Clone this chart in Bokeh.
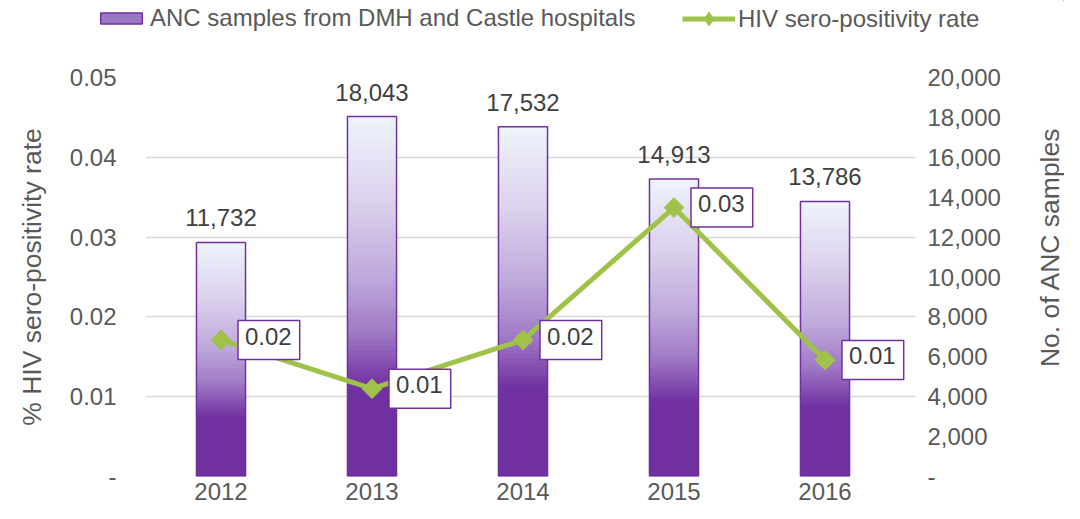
import numpy as np
from bokeh.plotting import figure
from bokeh.layouts import column, row
from bokeh.models import (Range1d, LinearAxis, FixedTicker, CustomJSTickFormatter,
                          ColumnDataSource, LabelSet, Label, Legend, LegendItem)
from bokeh.core.properties import value
from bokeh.embed import file_html
from bokeh.resources import INLINE

# ---- data ----
years = ["2012", "2013", "2014", "2015", "2016"]
samples = [11732, 18043, 17532, 14913, 13786]
rates = [0.0171, 0.0110, 0.0171, 0.0337, 0.0146]
left_ticks = [0, 0.01, 0.02, 0.03, 0.04, 0.05]
right_ticks = [0, 2000, 4000, 6000, 8000, 10000, 12000, 14000, 16000, 18000, 20000]

FONT = "Liberation Sans"
PURPLE = "#7030A0"
GREEN = "#9FC24A"
TXT = "#595959"
xs = list(range(len(years)))

W, H_LEG, H_MAIN, W_TITLE = 1064, 40, 463, 30

# ---------------- main chart ----------------
p = figure(width=W - W_TITLE, height=H_MAIN, output_backend="svg", toolbar_location=None,
           x_range=Range1d(-0.5, len(years) - 0.5 + 15 / 151), y_range=Range1d(0, 0.05),
           min_border_left=145, min_border_right=W - W_TITLE - 915, min_border_top=37,
           min_border_bottom=27)
p.outline_line_color = None
p.extra_y_ranges = {"count": Range1d(0, 20000)}

# gradient bars built from horizontal slices
N = 80
stops_t = [0.0, 0.25, 0.45, 0.60, 0.75, 1.0]
stops_c = np.array([(238, 244, 252), (218, 207, 235), (190, 168, 219),
                    (160, 122, 198), (112, 48, 160), (112, 48, 160)], dtype=float)
sx, sb, st, sc = [], [], [], []
for i, v in enumerate(samples):
    for k in range(N):
        t = 1 - (k + 0.5) / N
        rgb = [np.interp(t, stops_t, stops_c[:, j]) for j in range(3)]
        sx.append(xs[i])
        sb.append(v * k / N)
        st.append(min(v, v * (k + 1.4) / N))
        sc.append("#%02x%02x%02x" % tuple(int(round(c)) for c in rgb))
slices = ColumnDataSource(dict(x=sx, bottom=sb, top=st, color=sc))
p.vbar(x="x", width=0.325, bottom="bottom", top="top", fill_color="color",
       line_color=None, source=slices, y_range_name="count")
bars = ColumnDataSource(dict(x=xs, top=samples, label=[f"{v:,}" for v in samples]))
p.vbar(x="x", width=0.325, top="top", fill_color=None, line_color=PURPLE,
       line_width=1.5, source=bars, y_range_name="count")
p.add_layout(LabelSet(x="x", y="top", text="label", source=bars, y_range_name="count",
                      y_offset=16, text_align="center", text_baseline="bottom",
                      text_font=value(FONT), text_font_size="24px", text_color="#404040"))

# line
p.line(xs, rates, line_width=5, color=GREEN)
p.scatter(xs, rates, marker="square", angle=np.pi / 4, size=14, color=GREEN)
for i in xs:
    p.add_layout(Label(x=xs[i], y=rates[i], text=f"{rates[i]:.2f}", x_offset=17,
                       text_align="left", text_baseline="middle", text_font=FONT,
                       text_font_size="24px", text_color="#404040",
                       background_fill_color="white", border_line_color=PURPLE,
                       border_line_width=1.5, padding=(7, 8, 7, 15)))

# axes
p.xaxis.ticker = FixedTicker(ticks=xs)
p.xaxis.major_label_overrides = {i: y for i, y in zip(xs, years)}
p.yaxis.ticker = FixedTicker(ticks=left_ticks)
p.yaxis.formatter = CustomJSTickFormatter(code="return tick == 0 ? '-' : tick.toFixed(2);")
p.yaxis.axis_label = "% HIV sero-positivity rate"
ra = LinearAxis(y_range_name="count", ticker=FixedTicker(ticks=right_ticks),
                formatter=CustomJSTickFormatter(code="return tick == 0 ? '-' : Math.round(tick).toString().replace(/\\B(?=(\\d{3})+(?!\\d))/g, ',');"))
p.add_layout(ra, "right")
for ax in [p.xaxis[0], p.yaxis[0], ra]:
    ax.axis_line_color = None
    ax.major_tick_line_color = None
    ax.minor_tick_line_color = None
    ax.major_label_text_font = FONT
    ax.major_label_text_font_size = "24px"
    ax.major_label_text_color = TXT
    ax.axis_label_text_font = FONT
    ax.axis_label_text_font_size = "26.5px"
    ax.axis_label_text_font_style = "normal"
    ax.axis_label_text_color = TXT
p.xaxis.major_label_standoff = 0
p.yaxis.major_label_standoff = 23
p.yaxis.axis_label_standoff = 20
ra.major_label_standoff = 6
ra.major_label_text_align = "left"

p.xgrid.grid_line_color = None
p.ygrid.ticker = FixedTicker(ticks=left_ticks)
p.ygrid.grid_line_color = "#d9d9d9"
p.ygrid.grid_line_width = 1.5

# ---------------- legend strip ----------------
lf = figure(width=W, height=H_LEG, output_backend="svg", toolbar_location=None,
            x_range=Range1d(-2, -1), y_range=Range1d(-2, -1),
            x_axis_type=None, y_axis_type=None, min_border=0)
lf.outline_line_color = None
lf.xgrid.visible = False
lf.ygrid.visible = False
lb = lf.vbar(x=xs, width=0.325, top=samples, fill_color="#9A78C6", line_color=PURPLE, line_width=1.5)
ll = lf.line(xs, rates, line_width=5, color=GREEN)
lm = lf.scatter(xs, rates, marker="diamond", size=14, color=GREEN)
leg_common = dict(orientation="horizontal", label_text_font=FONT, label_text_font_size="24px",
                  label_text_color=TXT, label_standoff=3, border_line_color=None,
                  background_fill_alpha=0, padding=0, margin=0)
lf.add_layout(Legend(items=[LegendItem(label="ANC samples from DMH and Castle hospitals", renderers=[lb])],
                     location=(95, 8), glyph_width=52, glyph_height=14, **leg_common), "center")
lf.add_layout(Legend(items=[LegendItem(label="HIV sero-positivity rate", renderers=[ll, lm])],
                     location=(682, 4), glyph_width=53, glyph_height=35, **leg_common), "center")

# ---------------- right axis title ----------------
tf = figure(width=W_TITLE, height=H_MAIN, output_backend="svg", toolbar_location=None,
            x_range=Range1d(0, 1), y_range=Range1d(0, 1),
            x_axis_type=None, y_axis_type=None, min_border=0)
tf.outline_line_color = None
tf.xgrid.visible = False
tf.ygrid.visible = False
tf.add_layout(Label(x=0.5, y=0.575, text="No. of ANC samples", angle=np.pi / 2,
                    text_align="center", text_baseline="middle", text_font=FONT,
                    text_font_size="26.5px", text_color=TXT))

layout = column(lf, row(p, tf))
open("out.html", "w").write(file_html(layout, INLINE))
